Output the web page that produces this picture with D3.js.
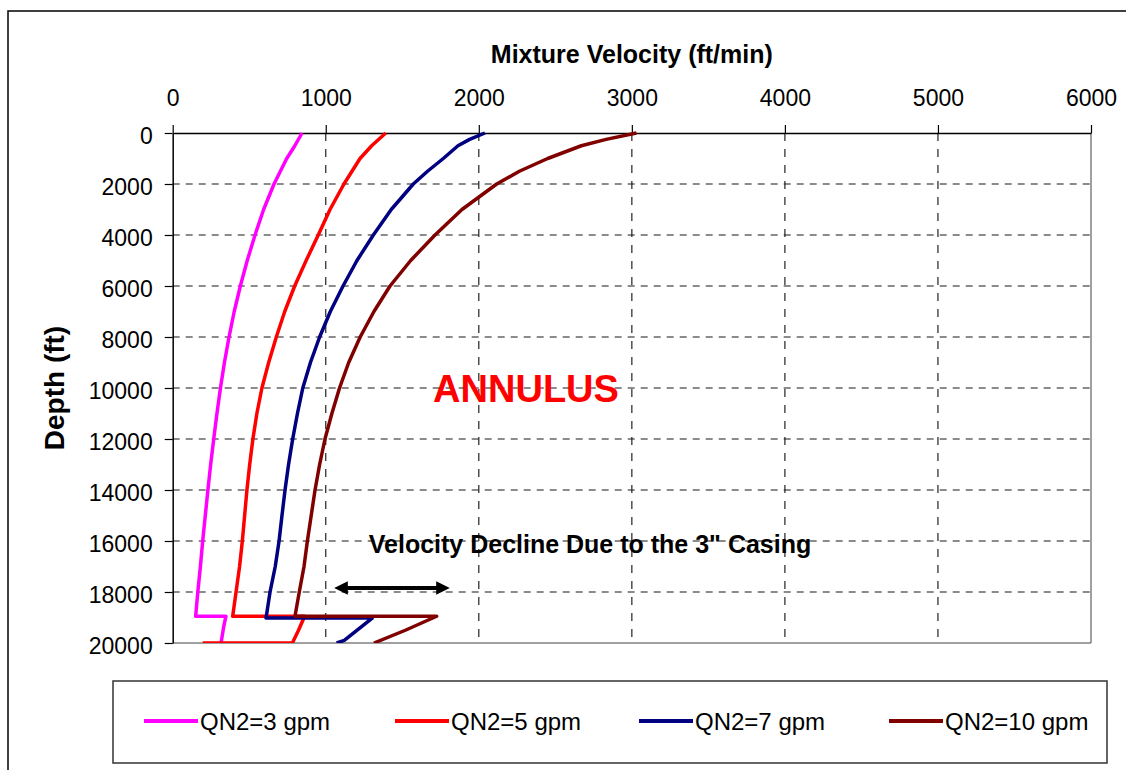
<!DOCTYPE html>
<html>
<head>
<meta charset="utf-8">
<script src="https://cdn.jsdelivr.net/npm/d3@7"></script>
<style>
  html, body { margin: 0; padding: 0; background: #fff; }
  svg { display: block; font-family: "Liberation Sans", Arial, sans-serif; }
</style>
</head>
<body>
<svg id="chart" width="1126" height="770"></svg>
<script>
// Tick values for both axes
const velocityTicks = [0, 1000, 2000, 3000, 4000, 5000, 6000];
const depthTicks = [0, 2000, 4000, 6000, 8000, 10000, 12000, 14000, 16000, 18000, 20000];

// Series names and colours
const seriesNames = ["QN2=3 gpm", "QN2=5 gpm", "QN2=7 gpm", "QN2=10 gpm"];
const seriesColors = ["#ff00ff", "#ff0000", "#000080", "#800000"];

// QN2 = 3 gpm : depth (ft) and mixture velocity (ft/min)
const depth3 = [0, 500, 1000, 2000, 3000, 4000, 5000, 6000, 7000, 8000, 9000, 10000, 11000, 12000,
                13000, 14000, 15000, 16000, 17000, 18000, 18950, 18950, 19400, 20000];
const vel3   = [845, 798, 745, 662, 594, 538, 487, 442, 402, 368, 338, 312, 289, 268,
                248, 230, 213, 196, 181, 164, 150, 348, 332, 316];

// QN2 = 5 gpm
const depth5 = [0, 500, 1000, 2000, 3000, 4000, 5000, 6000, 7000, 8000, 9000, 10000, 11000, 12000,
                13000, 14000, 15000, 16000, 17000, 18000, 18950, 18950, 19500, 20000, 20000];
const vel5   = [1392, 1300, 1224, 1119, 1028, 951, 872, 797, 732, 677, 627, 583, 550, 524,
                503, 485, 470, 455, 437, 414, 392, 862, 822, 782, 196];

// QN2 = 7 gpm
const depth7 = [0, 250, 500, 1000, 1500, 2000, 3000, 4000, 5000, 6000, 7000, 8000, 9000, 10000,
                11000, 12000, 13000, 14000, 15000, 16000, 17000, 18000, 19020, 19020, 19900, 20000];
const vel7   = [2040, 1940, 1864, 1768, 1665, 1572, 1428, 1311, 1204, 1113, 1030, 960, 900, 850,
                815, 784, 757, 734, 714, 695, 670, 636, 610, 1304, 1121, 1071];

// QN2 = 10 gpm
const depth10 = [0, 250, 500, 1000, 1500, 2000, 3000, 4000, 5000, 6000, 7000, 8000, 9000, 10000,
                 11000, 12000, 13000, 14000, 15000, 16000, 17000, 18000, 18950, 18950, 19500, 20000];
const vel10   = [3030, 2832, 2670, 2450, 2265, 2117, 1890, 1714, 1555, 1420, 1315, 1225, 1150, 1090,
                 1040, 995, 960, 930, 905, 880, 858, 827, 799, 1725, 1520, 1315];

const seriesDepths = [depth3, depth5, depth7, depth10];
const seriesVels = [vel3, vel5, vel7, vel10];

const svg = d3.select("#chart");
const FONT = '"Liberation Sans", Arial, sans-serif';

// Outer chart frame (extends past the right and bottom edges)
svg.append("rect")
  .attr("x", 8).attr("y", 11)
  .attr("width", 1200).attr("height", 900)
  .attr("fill", "#fff")
  .attr("stroke", "#000").attr("stroke-width", 1.5);

const plotLeft = 172.7, plotRight = 1091, plotTop = 133, plotBottom = 643;
const x = d3.scaleLinear().domain([0, 6000]).range([plotLeft, plotRight]);
const y = d3.scaleLinear().domain([0, 20000]).range([plotTop, plotBottom]);

// Grid lines
const grid = svg.append("g");
grid.selectAll("line.h")
  .data(depthTicks.slice(1, -1))
  .join("line")
  .attr("x1", plotLeft).attr("x2", plotRight)
  .attr("y1", d => y(d)).attr("y2", d => y(d))
  .attr("stroke", "#666").attr("stroke-width", 1.3)
  .attr("stroke-dasharray", "7,6");
grid.selectAll("line.v")
  .data(velocityTicks.slice(1, -1))
  .join("line")
  .attr("x1", d => x(d)).attr("x2", d => x(d))
  .attr("y1", plotTop).attr("y2", plotBottom)
  .attr("stroke", "#222").attr("stroke-width", 1.2)
  .attr("stroke-dasharray", "8,8");

// Plot-area right and bottom edges
svg.append("line")
  .attr("x1", plotRight).attr("x2", plotRight).attr("y1", plotTop).attr("y2", plotBottom)
  .attr("stroke", "#808080").attr("stroke-width", 1.5);
svg.append("line")
  .attr("x1", plotLeft).attr("x2", plotRight).attr("y1", plotBottom).attr("y2", plotBottom)
  .attr("stroke", "#808080").attr("stroke-width", 1.5);

// Top (velocity) axis
const xAxis = d3.axisTop(x)
  .tickValues(velocityTicks)
  .tickFormat(d3.format("d"))
  .tickSize(8).tickSizeOuter(0).tickPadding(19);
const gx = svg.append("g").attr("transform", `translate(0,${plotTop})`).call(xAxis);
gx.select(".domain").attr("stroke", "#000").attr("stroke-width", 1.5);
gx.selectAll(".tick line").attr("stroke", "#000").attr("stroke-width", 1.2);
gx.selectAll(".tick text")
  .attr("font-family", FONT).attr("font-size", 23).attr("fill", "#000");

// Left (depth) axis
const yAxis = d3.axisLeft(y)
  .tickValues(depthTicks)
  .tickFormat(d3.format("d"))
  .tickSize(8).tickSizeOuter(0).tickPadding(12);
const gy = svg.append("g").attr("transform", `translate(${plotLeft},0)`).call(yAxis);
gy.select(".domain").attr("stroke", "#000").attr("stroke-width", 1.5);
gy.selectAll(".tick line").attr("stroke", "#000").attr("stroke-width", 1.2);
gy.selectAll(".tick text")
  .attr("font-family", FONT).attr("font-size", 23).attr("fill", "#000")
  .attr("dy", "0.45em");

// Axis titles
svg.append("text")
  .attr("x", (plotLeft + plotRight) / 2).attr("y", 63)
  .attr("text-anchor", "middle")
  .attr("font-family", FONT).attr("font-size", 25).attr("font-weight", "bold")
  .text("Mixture Velocity (ft/min)");
svg.append("text")
  .attr("transform", `translate(64,${(plotTop + plotBottom) / 2}) rotate(-90)`)
  .attr("text-anchor", "middle")
  .attr("font-family", FONT).attr("font-size", 28).attr("font-weight", "bold")
  .text("Depth (ft)");

// Series lines
const line = d3.line()
  .x(d => x(d[0]))
  .y(d => y(d[1]));

svg.append("clipPath").attr("id", "plotclip")
  .append("rect").attr("x", plotLeft).attr("y", plotTop - 3)
  .attr("width", plotRight - plotLeft).attr("height", plotBottom - plotTop + 3);

const lines = svg.append("g").attr("clip-path", "url(#plotclip)");
seriesVels.forEach((vals, i) => {
  const pts = vals.map((v, k) => [v, seriesDepths[i][k]]);
  lines.append("path")
    .datum(pts)
    .attr("d", line)
    .attr("fill", "none")
    .attr("stroke", seriesColors[i])
    .attr("stroke-width", 3.5)
    .attr("stroke-linejoin", "round");
});

// Annotations
svg.append("text")
  .attr("x", 526).attr("y", 402)
  .attr("text-anchor", "middle")
  .attr("font-family", FONT).attr("font-size", 38).attr("font-weight", "bold")
  .attr("fill", "#ff0000")
  .text("ANNULUS");

svg.append("text")
  .attr("x", 590).attr("y", 553)
  .attr("text-anchor", "middle")
  .attr("font-family", FONT).attr("font-size", 25).attr("font-weight", "bold")
  .attr("fill", "#000")
  .text("Velocity Decline Due to the 3\" Casing");

// Double-headed arrow
const defs = svg.append("defs");
["arrowEnd", "arrowStart"].forEach((id, k) => {
  defs.append("marker")
    .attr("id", id)
    .attr("viewBox", "0 0 10 10")
    .attr("refX", 5).attr("refY", 5)
    .attr("markerWidth", 4).attr("markerHeight", 3.4)
    .attr("markerUnits", "strokeWidth")
    .attr("orient", k === 0 ? "auto" : "auto-start-reverse")
    .append("path")
    .attr("d", "M0,0 L10,5 L0,10 Z")
    .attr("fill", "#000");
});
svg.append("line")
  .attr("x1", 341).attr("x2", 443)
  .attr("y1", 588).attr("y2", 588)
  .attr("stroke", "#000").attr("stroke-width", 4)
  .attr("marker-end", "url(#arrowEnd)")
  .attr("marker-start", "url(#arrowStart)");

// Legend
svg.append("rect")
  .attr("x", 113).attr("y", 681)
  .attr("width", 994).attr("height", 82)
  .attr("fill", "#fff")
  .attr("stroke", "#333").attr("stroke-width", 1.5);

const legendX = [144, 395, 639, 889];
const legend = svg.append("g");
seriesNames.forEach((name, i) => {
  legend.append("line")
    .attr("x1", legendX[i]).attr("x2", legendX[i] + 54)
    .attr("y1", 721).attr("y2", 721)
    .attr("stroke", seriesColors[i]).attr("stroke-width", 4);
  legend.append("text")
    .attr("x", legendX[i] + 56).attr("y", 730)
    .attr("font-family", FONT).attr("font-size", 24)
    .attr("fill", "#000")
    .text(name);
});
</script>
</body>
</html>
